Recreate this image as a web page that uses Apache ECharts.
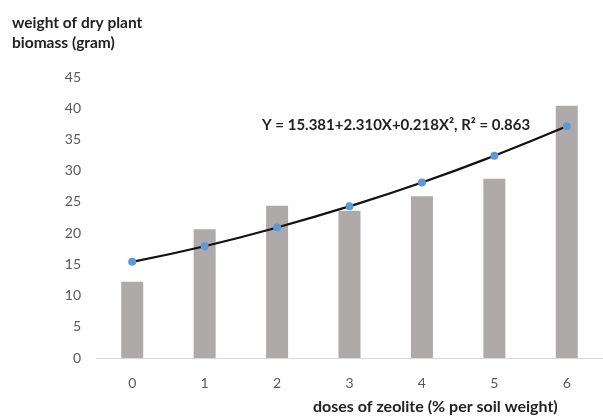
<!DOCTYPE html>
<html><head><meta charset="utf-8">
<script src="https://cdn.jsdelivr.net/npm/echarts@6/dist/echarts.min.js"></script>
<style>html,body{margin:0;padding:0;background:#fff}#c{width:603px;height:416px}</style>
</head><body><div id="c"></div>
<script>
const categories = ['0','1','2','3','4','5','6'];
const biomass = [12.2, 20.6, 24.4, 23.6, 25.9, 28.7, 40.4];
const fitted = [15.4, 17.9, 20.9, 24.3, 28.1, 32.4, 37.1];
const yTicks = {min: 0, max: 45, interval: 5};
const equation = 'Y = 15.381+2.310X+0.218X², R² = 0.863';
const yTitle = 'weight of dry plant\nbiomass (gram)';
const xTitle = 'doses of zeolite (% per soil weight)';

const chart = echarts.init(document.getElementById('c'));
chart.setOption({
  animation: false,
  textStyle: {fontFamily: 'Lato'},
  grid: {left: 96, top: 77, width: 510, height: 281, containLabel: false},
  graphic: [
    {type: 'text', x: 12, y: 13, style: {text: yTitle, font: 'bold 15.5px Lato', fill: '#222', lineHeight: 20, verticalAlign: 'top'}},
    {type: 'text', x: 313, y: 407, style: {text: xTitle, font: 'bold 16px Lato', fill: '#222', verticalAlign: 'middle'}},
    {type: 'text', x: 262, y: 125, style: {text: equation, font: 'bold 15px Lato', fill: '#222', verticalAlign: 'middle'}}
  ],
  xAxis: {
    type: 'category', data: categories,
    axisLine: {lineStyle: {color: '#d9d9d9'}},
    axisTick: {show: false},
    axisLabel: {color: '#595959', fontSize: 14, margin: 18}
  },
  yAxis: {
    type: 'value', min: yTicks.min, max: yTicks.max, interval: yTicks.interval,
    splitLine: {show: false}, axisLine: {show: false}, axisTick: {show: false},
    axisLabel: {color: '#595959', fontSize: 14, margin: 15}
  },
  series: [
    {type: 'bar', data: biomass, barWidth: 22, itemStyle: {color: '#aeaaa9'}},
    {type: 'line', data: fitted, smooth: true, symbol: 'circle', symbolSize: 8,
     lineStyle: {color: '#111', width: 2.2}, itemStyle: {color: '#5b9bd5'}, z: 5}
  ]
});
</script></body></html>
